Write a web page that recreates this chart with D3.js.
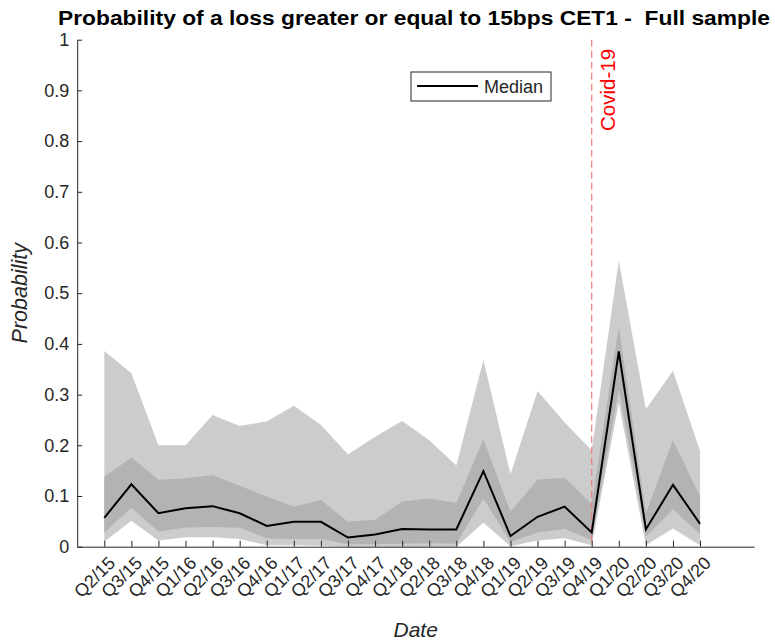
<!DOCTYPE html>
<html><head><meta charset="utf-8">
<script src="https://cdn.jsdelivr.net/npm/d3@7"></script>
<style>body{margin:0;background:#fff}svg{display:block}text{font-family:"Liberation Sans",Arial,sans-serif}</style>
</head><body><svg id="c" width="775" height="641"></svg>
<script>
const labels = ["Q2/15","Q3/15","Q4/15","Q1/16","Q2/16","Q3/16","Q4/16","Q1/17","Q2/17","Q3/17","Q4/17","Q1/18","Q2/18","Q3/18","Q4/18","Q1/19","Q2/19","Q3/19","Q4/19","Q1/20","Q2/20","Q3/20","Q4/20"];
const median     = [0.057,0.123,0.066,0.076,0.080,0.066,0.041,0.049,0.049,0.018,0.024,0.035,0.034,0.034,0.149,0.021,0.059,0.079,0.028,0.385,0.034,0.122,0.045];
const upperInner = [0.138,0.176,0.132,0.135,0.141,0.120,0.099,0.079,0.092,0.049,0.053,0.089,0.095,0.086,0.212,0.069,0.132,0.136,0.084,0.434,0.066,0.210,0.099];
const upperOuter = [0.386,0.342,0.200,0.200,0.260,0.238,0.247,0.278,0.240,0.182,0.217,0.248,0.210,0.160,0.368,0.143,0.307,0.245,0.190,0.564,0.271,0.347,0.189];
const lowerInner = [0.028,0.077,0.030,0.038,0.039,0.0375,0.0165,0.015,0.015,0.005,0.005,0.006,0.007,0.006,0.095,0.009,0.028,0.035,0.013,0.310,0.020,0.074,0.025];
const lowerOuter = [0.010,0.051,0.012,0.0185,0.0185,0.015,0.003,0.003,0.002,0.000,0.000,0.000,0.000,0.000,0.047,0.001,0.012,0.0165,0.003,0.284,0.003,0.036,0.003];
const yTicks = [0,0.1,0.2,0.3,0.4,0.5,0.6,0.7,0.8,0.9,1];
const yTickLabels = ["0","0.1","0.2","0.3","0.4","0.5","0.6","0.7","0.8","0.9","1"];
const eventIndex = 18; // Q4/19
const eventLabel = "Covid-19";
const titleText = "Probability of a loss greater or equal to 15bps CET1 -  Full sample";

const svg = d3.select("#c");
const L = 77.2, R = 754.2, T = 39.7, B = 546.7;
const x = d3.scaleLinear().domain([0, 25]).range([L, R]);
const y = d3.scaleLinear().domain([0, 1]).range([B, T]);
const idx = labels.map((d,i)=>i+1);
const axisColor = "#262626";

const area = (lo, hi) => d3.area().x((d,i)=>x(idx[i])).y0((d,i)=>y(lo[i])).y1((d,i)=>y(hi[i]))(labels);
svg.append("path").attr("d", area(lowerOuter, upperOuter)).attr("fill", "#cccccc");
svg.append("path").attr("d", area(lowerInner, upperInner)).attr("fill", "#b3b3b3");

// event line
svg.append("line").attr("x1", x(idx[eventIndex])).attr("x2", x(idx[eventIndex]))
  .attr("y1", T).attr("y2", B).attr("stroke", "#f07a7a").attr("stroke-width", 1.2).attr("stroke-dasharray", "7,4");
svg.append("text").attr("transform", `translate(${x(idx[eventIndex])+23.5},131) rotate(-90)`)
  .attr("fill", "#ff0000").attr("font-size", 20.5).text(eventLabel);

// median
svg.append("path").attr("d", d3.line().x((d,i)=>x(idx[i])).y(d=>y(d))(median))
  .attr("fill","none").attr("stroke","#000").attr("stroke-width",2).attr("stroke-linejoin","miter");

// axes
const gx = svg.append("g").attr("transform", `translate(0,${B})`)
  .call(d3.axisBottom(x).tickValues(idx).tickFormat("").tickSizeInner(-6).tickSizeOuter(0));
const gy = svg.append("g").attr("transform", `translate(${L},0)`)
  .call(d3.axisLeft(y).tickValues(yTicks).tickFormat((d,i)=>yTickLabels[i]).tickSizeInner(-5).tickSizeOuter(0).tickPadding(8));
[gx, gy].forEach(g=>{ g.select(".domain").attr("stroke", axisColor); g.selectAll(".tick line").attr("stroke", axisColor); });
gy.selectAll(".tick text").attr("font-size", 18).attr("fill", axisColor).attr("font-family","Liberation Sans, Arial, sans-serif");

gx.selectAll(".tick").append("text").attr("fill", axisColor).attr("font-size", 18)
  .attr("font-family","Liberation Sans, Arial, sans-serif")
  .attr("text-anchor","end").attr("transform","translate(7,13) rotate(-45)").attr("dy","0.35em")
  .text((d,i)=>labels[i]);

// title & labels
svg.append("text").attr("x", 414).attr("y", 25).attr("text-anchor","middle")
  .attr("font-weight","bold").attr("font-size",20).attr("fill","#000")
  .attr("textLength", 712).attr("lengthAdjust","spacingAndGlyphs")
  .style("white-space","pre").text(titleText);
svg.append("text").attr("x", (L+R)/2).attr("y", 637).attr("text-anchor","middle")
  .attr("font-style","italic").attr("font-size",21).attr("fill",axisColor).text("Date");
svg.append("text").attr("transform", `translate(27,${(T+B)/2}) rotate(-90)`).attr("text-anchor","middle")
  .attr("font-style","italic").attr("font-size",21.5).attr("fill",axisColor).text("Probability");

// legend
const lg = svg.append("g");
lg.append("rect").attr("x",411).attr("y",72).attr("width",140).attr("height",29).attr("fill","#fff").attr("stroke","#262626").attr("stroke-width",1);
lg.append("line").attr("x1",417).attr("x2",478).attr("y1",86).attr("y2",86).attr("stroke","#000").attr("stroke-width",2);
lg.append("text").attr("x",484).attr("y",92.5).attr("font-size",18).attr("fill","#262626").text("Median");
</script></body></html>
